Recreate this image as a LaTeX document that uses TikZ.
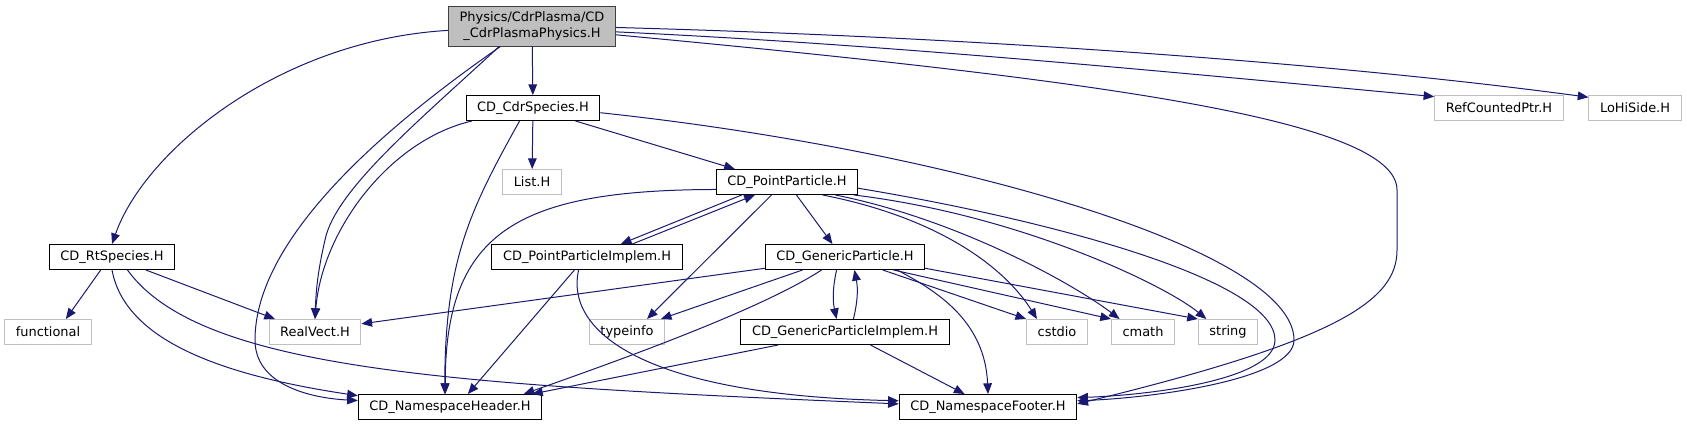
\documentclass[tikz,border=0pt]{standalone}
\usepackage{fontspec}
\newfontfamily\dotfont{DejaVu Sans}
\usetikzlibrary{arrows.meta}
\definecolor{edgeblue}{HTML}{191970}
\definecolor{extgray}{HTML}{BFBFBF}
\definecolor{rootfill}{HTML}{BFBFBF}
\definecolor{rootline}{HTML}{404040}

\begin{document}
\begin{tikzpicture}[x=0.75pt, y=-0.75pt, font=\dotfont\fontsize{9.7}{11.8}\selectfont,
    filenode/.style={draw=black, fill=white, line width=0.75pt, inner xsep=8.3pt, inner ysep=0pt, minimum height=18.75pt},
    sysnode/.style={filenode, draw=extgray},
    rootnode/.style={filenode, draw=rootline, fill=rootfill, minimum height=30pt, align=center},
    incl/.style={draw=edgeblue, line width=0.75pt, -{Triangle[length=8pt, width=6.5pt]}},
  ]
  \useasboundingbox (0,0) rectangle (1687,425);

  % files, one row per rank
  \node[rootnode] (root) at (532,26) {Physics/CdrPlasma/CD\\\_CdrPlasmaPhysics.H};
  \node[filenode] (cdrsp) at (533,108) {CD\_CdrSpecies.H};
  \node[sysnode] (refc) at (1499,108) {RefCountedPtr.H};
  \node[sysnode] (lohi) at (1635,108) {LoHiSide.H};
  \node[sysnode] (list) at (532,182) {List.H};
  \node[filenode] (pp) at (787,182) {CD\_PointParticle.H};
  \node[filenode] (rt) at (112,257) {CD\_RtSpecies.H};
  \node[filenode] (ppimpl) at (587,257) {CD\_PointParticleImplem.H};
  \node[filenode] (gp) at (845,257) {CD\_GenericParticle.H};
  \node[sysnode] (functional) at (48,332) {functional};
  \node[sysnode] (realvect) at (315,332) {RealVect.H};
  \node[sysnode] (typeinfo) at (627,332) {typeinfo};
  \node[filenode] (gpimpl) at (845,332) {CD\_GenericParticleImplem.H};
  \node[sysnode] (cstdio) at (1057,332) {cstdio};
  \node[sysnode] (cmath) at (1143,332) {cmath};
  \node[sysnode] (string) at (1228,332) {string};
  \node[filenode] (nsheader) at (450,407) {CD\_NamespaceHeader.H};
  \node[filenode] (nsfooter) at (988,407) {CD\_NamespaceFooter.H};

  % includes of the plasma physics header
  \draw[incl] (root) -- (cdrsp);
  \draw[incl] (root.183) .. controls (280,40) and (145,150) .. (rt.north);
  \draw[incl] (root.212) .. controls (420,120) and (335,190) .. (325,240) .. controls (318,270) and (316,290) .. (realvect.north);
  \draw[incl] (root.213) .. controls (380,130) and (255,240) .. (255,340) .. controls (255,385) and (310,398) .. (nsheader.176);
  \draw[incl] (root.-4) .. controls (900,45) and (1200,75) .. (refc.170);
  \draw[incl] (root.-1) .. controls (1000,38) and (1350,65) .. (lohi.167);
  \draw[incl] (root.-6) .. controls (1100,80) and (1397,120) .. (1397,190) -- (1397,250)
    .. controls (1397,300) and (1340,340) .. (nsfooter.2);

  % CD_CdrSpecies.H
  \draw[incl] (cdrsp) -- (list);
  \draw[incl] (cdrsp.-17) -- (pp.166);
  \draw[incl] (cdrsp.192) .. controls (390,140) and (322,230) .. (realvect.north);
  \draw[incl] (cdrsp.224) .. controls (470,210) and (445,260) .. (nsheader.112);
  \draw[incl] (cdrsp.-4) .. controls (950,150) and (1294,250) .. (1294,340)
    .. controls (1294,380) and (1150,398) .. (nsfooter.4);

  % CD_RtSpecies.H
  \draw[incl] (rt.229) -- (functional.36);
  \draw[incl] (rt.-21) -- (realvect.162);
  \draw[incl] (rt.south) .. controls (125,340) and (220,375) .. (nsheader.173);
  \draw[incl] (rt.-40) .. controls (200,370) and (450,385) .. (nsfooter.178);

  % CD_PointParticle.H and its implementation
  \draw[incl] (pp.196) -- (ppimpl.21);
  \draw[incl] (ppimpl.16) -- (pp.202);
  \draw[incl] (pp.-54) -- (gp.134);
  \draw[incl] (pp.220) -- (typeinfo.33);
  \draw[incl] (pp.-20) .. controls (940,218) and (1005,268) .. (cstdio.147);
  \draw[incl] (pp.-15) .. controls (960,220) and (1075,285) .. (cmath.151);
  \draw[incl] (pp.-11) .. controls (1020,215) and (1165,285) .. (string.149);
  \draw[incl] (pp.186) .. controls (520,190) and (445,230) .. (nsheader.110);
  \draw[incl] (pp.-5) .. controls (1050,220) and (1275,280) .. (1275,340)
    .. controls (1275,380) and (1150,395) .. (nsfooter.6);
  \draw[incl] (ppimpl.226) -- (nsheader.36);
  \draw[incl] (ppimpl.237) .. controls (565,330) and (640,395) .. (nsfooter.176);

  % CD_GenericParticle.H and its implementation
  \draw[incl] (gp.237) to[bend right=12] (gpimpl.123);
  \draw[incl] (gpimpl.57) to[bend right=12] (gp.-54);
  \draw[incl] (gp.188) -- (realvect.10);
  \draw[incl] (gp.197) -- (typeinfo.21);
  \draw[incl] (gp.-19) -- (cstdio.north west);
  \draw[incl] (gp.-15) -- (cmath.north west);
  \draw[incl] (gp.-8) -- (string.north west);
  \draw[incl] (gp.209) .. controls (760,310) and (620,360) .. (nsheader.10);
  \draw[incl] (gp.-14) .. controls (935,290) and (985,320) .. (nsfooter.north);
  \draw[incl] (gpimpl.191) -- (nsheader.9);
  \draw[incl] (gpimpl.-27) -- (nsfooter.151);
\end{tikzpicture}
\end{document}
